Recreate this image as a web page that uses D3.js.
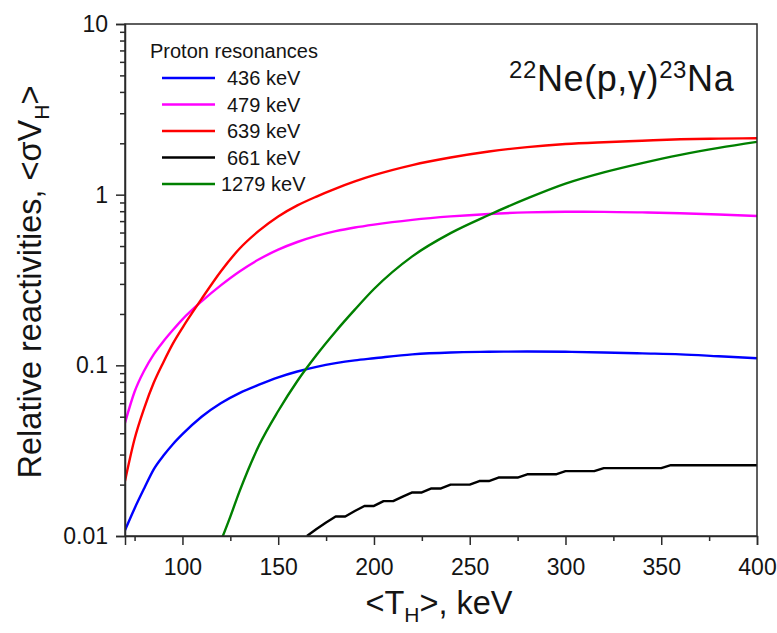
<!DOCTYPE html>
<html>
<head>
<meta charset="utf-8">
<script src="https://cdn.jsdelivr.net/npm/d3@7"></script>
<style>
  html, body { margin: 0; padding: 0; background: #fff; }
  svg { display: block; font-family: "Liberation Sans", Arial, sans-serif; }
</style>
</head>
<body>
<svg id="chart" width="777" height="633"></svg>
<script>
// Relative reactivities of 22Ne(p,γ)23Na proton resonances vs mean hydrogen temperature <T_H>
const legendTitle = "Proton resonances";
const seriesNames = ["436 keV", "479 keV", "639 keV", "661 keV", "1279 keV"];
const seriesColors = ["#0000ff", "#ff00ff", "#ff0000", "#000000", "#008000"];

// Shared temperature grid (keV) for the smooth curves
const gridT = [70, 75, 80, 85, 90, 95, 100, 110, 120, 130, 140, 150, 160, 170, 180, 190, 200,
               220, 240, 260, 280, 300, 320, 340, 360, 380, 400];
const res436 = [0.0108, 0.0145, 0.0190, 0.0246, 0.0295, 0.0345, 0.0395, 0.0500, 0.0600, 0.0690, 0.0770, 0.0850,
                0.0920, 0.0980, 0.1030, 0.1070, 0.1100, 0.1160, 0.1190, 0.1200, 0.1205, 0.1200, 0.1190, 0.1175,
                0.1160, 0.1130, 0.1100];
const res479 = [0.046, 0.070, 0.093, 0.116, 0.138, 0.161, 0.186, 0.237, 0.294, 0.356, 0.418, 0.476,
                0.528, 0.573, 0.611, 0.642, 0.668, 0.712, 0.746, 0.771, 0.787, 0.794, 0.793, 0.787,
                0.778, 0.765, 0.750];
const res639 = [0.021, 0.037, 0.056, 0.079, 0.104, 0.134, 0.166, 0.245, 0.355, 0.485, 0.615, 0.745,
                0.865, 0.975, 1.085, 1.195, 1.300, 1.490, 1.650, 1.790, 1.900, 1.980, 2.030, 2.070,
                2.110, 2.130, 2.140];

// 1279 keV resonance (below 0.01 before ~121 keV)
const t1279 = [120, 125, 130, 140, 150, 160, 170, 180, 190, 200, 220, 240, 260, 280, 300, 320, 340, 360, 380, 400];
const res1279 = [0.0093, 0.0130, 0.0185, 0.034, 0.054, 0.081, 0.115, 0.158, 0.212, 0.280, 0.435, 0.595,
                 0.760, 0.950, 1.160, 1.350, 1.530, 1.710, 1.880, 2.040];

// 661 keV resonance, tabulated every 5 keV with three-decimal values
const t661 = [165, 170, 175, 180, 185, 190, 195, 200, 205, 210, 215, 220, 225, 230, 235, 240, 245, 250,
              255, 260, 265, 270, 275, 280, 285, 290, 295, 300, 305, 310, 315, 320, 325, 330, 335, 340,
              345, 350, 355, 360, 365, 370, 375, 380, 385, 390, 395, 400];
const res661 = [0.010, 0.011, 0.012, 0.013, 0.013, 0.014, 0.015, 0.015, 0.016, 0.016, 0.017, 0.018,
                0.018, 0.019, 0.019, 0.020, 0.020, 0.020, 0.021, 0.021, 0.022, 0.022, 0.022, 0.023,
                0.023, 0.023, 0.023, 0.024, 0.024, 0.024, 0.024, 0.025, 0.025, 0.025, 0.025, 0.025,
                0.025, 0.025, 0.026, 0.026, 0.026, 0.026, 0.026, 0.026, 0.026, 0.026, 0.026, 0.026];

const xMajorTicks = [100, 150, 200, 250, 300, 350, 400];
const xMinorTicks = [75, 125, 175, 225, 275, 325, 375];
const yMajorTicks = [0.01, 0.1, 1, 10];
const yTickLabels = ["0.01", "0.1", "1", "10"];

const series = [
  { name: seriesNames[0], color: seriesColors[0], t: gridT, v: res436, smooth: true },
  { name: seriesNames[1], color: seriesColors[1], t: gridT, v: res479, smooth: true },
  { name: seriesNames[2], color: seriesColors[2], t: gridT, v: res639, smooth: true },
  { name: seriesNames[3], color: seriesColors[3], t: t661, v: res661, smooth: false },
  { name: seriesNames[4], color: seriesColors[4], t: t1279, v: res1279, smooth: true }
];

const margin = { left: 125, top: 24, right: 20, bottom: 97 };
const W = 777, H = 633;
const iw = W - margin.left - margin.right;   // 632
const ih = H - margin.top - margin.bottom;   // 512

const svg = d3.select("#chart");
const g = svg.append("g").attr("transform", `translate(${margin.left},${margin.top})`);

const x = d3.scaleLinear().domain([70, 400]).range([0, iw]);
const y = d3.scaleLog().domain([0.01, 10]).range([ih, 0]);

const axisColor = "#2a2a2a";
const textColor = "#141414";

// clip region for curves
svg.append("defs").append("clipPath").attr("id", "plotClip")
  .append("rect").attr("x", 0).attr("y", 0).attr("width", iw).attr("height", ih);

// curves
const curves = g.append("g").attr("clip-path", "url(#plotClip)");
series.forEach(s => {
  const pts = s.t.map((t, i) => [t, s.v[i]]);
  const line = d3.line()
    .x(d => x(d[0]))
    .y(d => y(d[1]))
    .curve(s.smooth ? d3.curveMonotoneX : d3.curveLinear);
  curves.append("path")
    .datum(pts)
    .attr("d", line)
    .attr("fill", "none")
    .attr("stroke", s.color)
    .attr("stroke-width", 2.4)
    .attr("stroke-linejoin", "round");
});

// x axis: major + minor ticks
g.append("g").attr("transform", `translate(0,${ih})`)
  .call(d3.axisBottom(x).tickValues(xMajorTicks).tickSize(9).tickPadding(14).tickFormat(d3.format("d")));
g.append("g").attr("transform", `translate(0,${ih})`)
  .call(d3.axisBottom(x).tickValues(xMinorTicks).tickSize(5).tickFormat(""))
  .call(a => a.select(".domain").remove());

// y axis: major + minor ticks
const yMinor = [];
[0.01, 0.1, 1].forEach(b => { for (let k = 2; k <= 9; k++) yMinor.push(b * k); });
g.append("g")
  .call(d3.axisLeft(y).tickValues(yMajorTicks).tickSize(9).tickPadding(8)
    .tickFormat((d, i) => yTickLabels[i]));
g.append("g")
  .call(d3.axisLeft(y).tickValues(yMinor).tickSize(5).tickFormat(""))
  .call(a => a.select(".domain").remove());

g.selectAll(".tick text")
  .attr("font-family", "'Liberation Sans', Arial, sans-serif")
  .attr("font-size", 23)
  .attr("fill", textColor);
g.selectAll(".tick line, .domain").attr("stroke", axisColor).attr("stroke-width", 1.5);

// frame
g.append("rect").attr("x", 0).attr("y", 0).attr("width", iw).attr("height", ih)
  .attr("fill", "none").attr("stroke", axisColor).attr("stroke-width", 1.5);

// axis titles
const xt = svg.append("text")
  .attr("x", margin.left + iw / 2 - 2).attr("y", 614)
  .attr("text-anchor", "middle").attr("font-size", 32.5).attr("fill", textColor);
xt.append("tspan").text("<T");
xt.append("tspan").text("H").attr("font-size", 21).attr("dy", 8);
xt.append("tspan").text(">, keV").attr("dy", -8);

const yt = svg.append("text")
  .attr("transform", `translate(41,${margin.top + ih / 2 + 2}) rotate(-90)`)
  .attr("text-anchor", "middle").attr("font-size", 32.5).attr("fill", textColor);
yt.append("tspan").text("Relative reactivities, <σV");
yt.append("tspan").text("H").attr("font-size", 21).attr("dy", 8);
yt.append("tspan").text(">").attr("dy", -8);

// reaction label
const rl = svg.append("text").attr("x", 509).attr("y", 91)
  .attr("font-size", 36).attr("letter-spacing", 0.6).attr("fill", textColor);
rl.append("tspan").text("22").attr("font-size", 24).attr("dy", -13);
rl.append("tspan").text("Ne(p,γ)").attr("dy", 13);
rl.append("tspan").text("23").attr("font-size", 24).attr("dy", -13);
rl.append("tspan").text("Na").attr("dy", 13);

// legend
const lg = svg.append("g");
lg.append("text").attr("x", 150).attr("y", 58).attr("font-size", 20).attr("fill", textColor).text(legendTitle);
series.forEach((s, i) => {
  const yy = 78 + i * 26.5;
  lg.append("line").attr("x1", 162).attr("x2", 215).attr("y1", yy).attr("y2", yy)
    .attr("stroke", s.color).attr("stroke-width", 2.4);
  lg.append("text").attr("x", i === 4 ? 221 : 227).attr("y", yy + 7)
    .attr("font-size", 20).attr("fill", textColor).text(s.name);
});
</script>
</body>
</html>
